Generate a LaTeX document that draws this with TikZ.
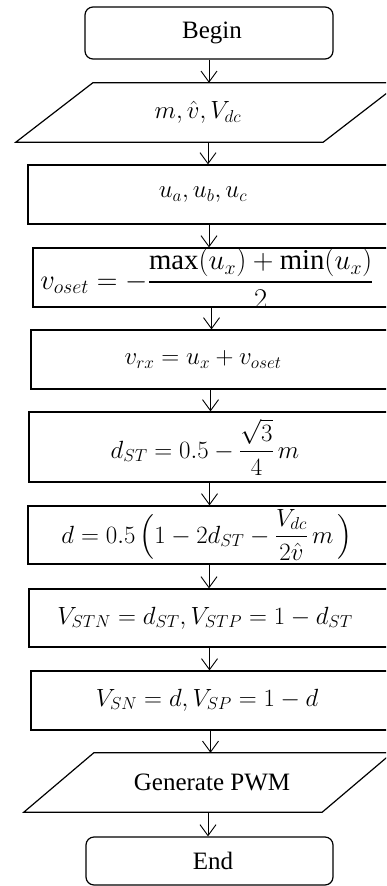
\documentclass[tikz,border=0pt]{standalone}
\usepackage{amsmath}
\usepackage{fontspec}
\setmainfont{Liberation Serif}
\usetikzlibrary{arrows.meta}
\tikzset{
  every node/.style={font=\fontsize{25}{30}\selectfont, inner sep=0pt},
  proc/.style={draw, rectangle, line width=1.2pt},
  term/.style={proc, rounded corners=8pt},
  io/.style={rectangle},
  flow/.style={-{Straight Barb[length=11pt,width=16pt]}, line width=0.9pt}
}

\begin{document}
\begin{tikzpicture}[x=1pt,y=-1pt]
  \useasboundingbox (0,0) rectangle (386,886);
  \clip (0,0) rectangle (386,886);
  % terminals and steps
  \node[term, minimum width=248, minimum height=52] (begin) at (209,33) {\hspace*{6pt}Begin};
  \node[io, minimum width=384, minimum height=59] (inp) at (208,112.5)
    {\raisebox{-2pt}{\hspace*{-20pt}$m, \hat{v}, V_{dc}$}};
  \node[proc, minimum width=362, minimum height=59] (ua) at (209,194.5)
    {\raisebox{-10pt}{\hspace*{-12pt}$u_a, u_b, u_c$}};
  \node[proc, minimum width=357, minimum height=59] (oset) at (211.5,277.5)
    {\smash{\raisebox{-11.7pt}{\hspace*{-9pt}\scalebox{1.15}{$\displaystyle v_{oset} = -\frac{\max(u_x) + \min(u_x)}{2}$}}}};
  \node[proc, minimum width=359, minimum height=59] (vrx) at (210.5,359.5)
    {\raisebox{-8.6pt}{\hspace*{-15pt}$v_{rx} = u_x + v_{oset}$}};
  \node[proc, minimum width=361, minimum height=70] (dst) at (209.5,447)
    {\raisebox{-3pt}{\hspace*{-9pt}$\displaystyle d_{ST} = 0.5 - \frac{\sqrt{3}}{4}\,m$}};
  \node[proc, minimum width=362, minimum height=58] (dd) at (209,535)
    {\smash{\raisebox{-8pt}{\hspace*{-4pt}$\displaystyle d = 0.5\,\Bigl(1 - 2d_{ST} - \frac{V_{dc}}{2\hat{v}}\,m\,\Bigr)$}}};
  \node[proc, minimum width=361, minimum height=58] (vstn) at (209.5,618)
    {\raisebox{-5.5pt}{\hspace*{-9pt}$V_{STN} = d_{ST}, V_{STP} = 1 - d_{ST}$}};
  \node[proc, minimum width=359, minimum height=59] (vsn) at (210.5,700.5)
    {\raisebox{6pt}{\hspace*{-7pt}$V_{SN} = d, V_{SP} = 1 - d$}};
  \node[io, minimum width=368, minimum height=59] (pwm) at (208,782.5)
    {\raisebox{-1.5pt}{\hspace*{8pt}Generate PWM}};
  \node[term, minimum width=247, minimum height=48] (fin) at (209.5,861) {\hspace*{7pt}End};
  % slanted input/output boxes
  \foreach \n/\s in {inp/77, pwm/70}{
    \draw[line width=1.2pt] (\n.south west) -- ([xshift=\s]\n.north west) -- (\n.north east)
      -- ([xshift=-\s]\n.south east) -- cycle;
  }
  % connectors
  \foreach \a/\b in {begin/inp, inp/ua, ua/oset, oset/vrx, vrx/dst, dst/dd, dd/vstn, vstn/vsn, vsn/pwm, pwm/fin}{
    \draw[flow] (\a.south) -- (\a.south |- \b.north);
  }
\end{tikzpicture}
\end{document}
